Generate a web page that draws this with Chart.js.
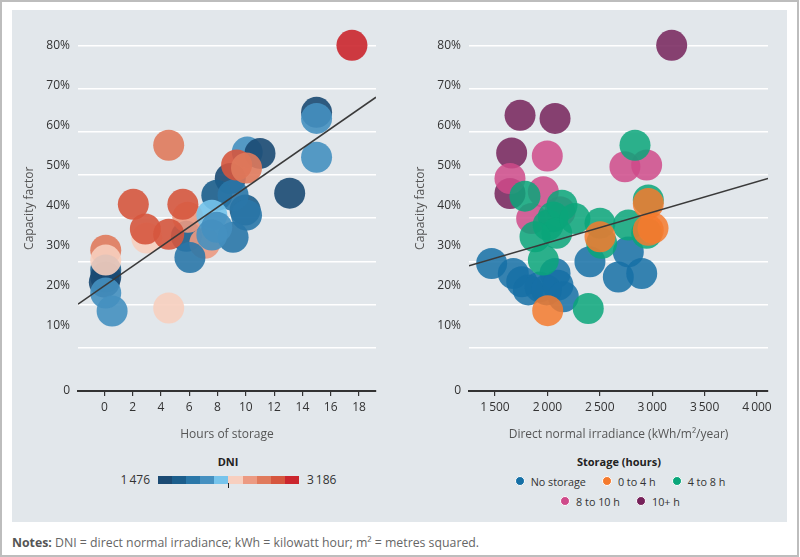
<!DOCTYPE html>
<html>
<head>
<meta charset="utf-8">
<script src="https://cdn.jsdelivr.net/npm/chart.js@4/dist/chart.umd.min.js"></script>
<style>
  html, body { margin: 0; padding: 0; background: #fff; }
  body { width: 800px; height: 557px; position: relative; overflow: hidden; font-family: "Open Sans", sans-serif; color: #333; }
  #frame { position: absolute; left: 0; top: 0; width: 799px; height: 557px; box-sizing: border-box; border: 2px solid #bdbdbd; }
  #panel { position: absolute; left: 12px; top: 10px; width: 775px; height: 512px; background: #e2e7eb; }
  canvas { position: absolute; top: 10px; }
  #cLeft { left: 12px; width: 388px; height: 440px; }
  #cRight { left: 400px; width: 387px; height: 440px; }
  .ttl { position: absolute; font-weight: 700; font-size: 11px; line-height: 16px; text-align: center; color: #222; }
  #dniTitle { left: 128px; width: 200px; top: 454px; }
  #stTitle { left: 519px; width: 200px; top: 454px; }
  .lbl { position: absolute; font-size: 12px; line-height: 16px; top: 472px; color: #333; }
  #dniMin { left: 90px; width: 60px; text-align: right; }
  #dniMax { left: 307px; }
  #dniBar { position: absolute; left: 158px; top: 476px; width: 141px; height: 8px; display: flex; }
  #dniBar div { flex: 1; }
  #dniMark { position: absolute; left: 227.5px; top: 483px; width: 1.5px; height: 5px; background: #222; }
  #stLegend { position: absolute; left: 470px; width: 300px; top: 471px; font-size: 10.8px; color: #333; }
  .row { display: flex; justify-content: center; height: 20px; align-items: center; }
  .item { display: flex; align-items: center; margin: 0 8px; }
  .dot { width: 8px; height: 8px; border-radius: 50%; border: 1.5px solid #fff; margin-right: 6px; }
  #notes { position: absolute; left: 12px; top: 535px; font-size: 12.3px; line-height: 16px; color: #666; }
  #notes b { color: #555; }
</style>
</head>
<body>
<div id="frame"></div>
<div id="panel"></div>
<canvas id="cLeft" width="388" height="440"></canvas>
<canvas id="cRight" width="387" height="440"></canvas>
<div id="dniTitle" class="ttl">DNI</div>
<div id="dniMin" class="lbl"></div>
<div id="dniBar"></div>
<div id="dniMark"></div>
<div id="dniMax" class="lbl"></div>
<div id="stTitle" class="ttl">Storage (hours)</div>
<div id="stLegend"></div>
<div id="notes"><b>Notes:</b> DNI = direct normal irradiance; kWh = kilowatt hour; m² = metres squared.</div>

<script>
// DNI colour scale (left chart)
const dniRange = [1476, 3186];
const dniColors = ['#1b4a73', '#1c5e8c', '#2a77a8', '#4590c0', '#76c4ec',
                   '#f7cfbf', '#ec9a82', '#e07a5c', '#d6563e', '#cb262e'];

// Left chart: hours of storage vs capacity factor (%), coloured by DNI
const leftHours = [15.0, 15.0, 15.0, 13.1, 8.9, 10.1, 11.0, 9.95, 7.95, 9.1,
                   10.05, 5.8, 9.35, 10.05, 5.9, 5.55, 7.1, 6.05, 9.1, 7.6,
                   7.95, 7.6, 4.55, 3.0, 2.05, 2.9, 4.55, 4.55, 0.1, 0.1,
                   0.1, 0.0, 0.1, 0.55, 0.1, 17.5];
const leftCF = [64.5, 63.1, 54.1, 45.8, 49.2, 55.3, 55.0, 41.9, 45.3, 45.3,
                40.7, 35.8, 52.3, 51.6, 40.2, 43.2, 34.2, 30.9, 35.6, 40.7,
                37.9, 36.1, 56.9, 35.4, 43.2, 37.5, 36.3, 19.2, 32.6, 28.0,
                26.4, 25.2, 30.3, 18.5, 22.7, 80.0];
const leftDNI = [1560, 2075, 2075, 1560, 1560, 2075, 1560, 1730, 1730, 1900,
                 1900, 1730, 2930, 2760, 2590, 2930, 2590, 1900, 1900, 2245,
                 2075, 2075, 2760, 2415, 2930, 2930, 2930, 2415, 2760, 1730,
                 1560, 1560, 2415, 2075, 2075, 3186];

// Right chart: DNI vs capacity factor (%), grouped by storage
const storageGroups = ['No storage', '0 to 4 h', '4 to 8 h', '8 to 10 h', '10+ h'];
const storageColors = ['#1670a6', '#f47a2e', '#0aa67a', '#cf4a8a', '#76225a'];
const noStorageDNI = [1468, 1675, 1755, 1818, 1929, 1993, 2073, 2101, 2152, 2406, 2677, 2772, 2900];
const noStorageCF  = [29.5, 27.2, 25.3, 23.4, 24.1, 23.4, 27.2, 24.5, 21.8, 29.9, 26.4, 32.2, 27.2];
const upTo4DNI = [2003, 2502, 3008, 2963, 2963];
const upTo4CF  = [18.6, 35.7, 37.7, 37.2, 43.4];
const upTo8DNI = [2836, 1786, 2056, 2006, 2139, 2089, 1882, 2263, 1961, 2502, 2390, 2518, 2772, 2963, 2947];
const upTo8CF  = [56.9, 45.1, 40.3, 38.4, 43.0, 36.5, 35.7, 39.9, 30.3, 38.8, 19.1, 34.2, 38.4, 44.2, 36.5];
const upTo10DNI = [1999, 1643, 1961, 1850, 2120, 2740, 2947];
const upTo10CF  = [54.4, 49.2, 46.1, 39.9, 41.5, 51.9, 52.3];
const over10DNI = [3186, 1739, 2073, 1659, 1643];
const over10CF  = [80.0, 63.8, 63.1, 55.1, 45.7];

// trend lines (end points)
const trendHours = [-1.86, 19.2];
const trendHoursCF = [20.1, 68.0];
const trendDNI = [1252, 4105];
const trendDNICF = [29.0, 49.2];

// ticks
const hoursTicks = [0, 2, 4, 6, 8, 10, 12, 14, 16, 18];
const dniTicks = [1500, 2000, 2500, 3000, 3500, 4000];
const cfTicks = [0, 10, 20, 30, 40, 50, 60, 70, 80];
const cfTickLabels = ['0', '10%', '20%', '30%', '40%', '50%', '60%', '70%', '80%'];

Chart.defaults.font.family = '"Open Sans", sans-serif';
Chart.defaults.font.size = 12;

const fmt = v => String(v).replace(/(\d)(\d{3})$/, '$1\u2009$2');

function hexA(hex, a) {
  const n = parseInt(hex.slice(1), 16);
  return `rgba(${n >> 16},${(n >> 8) & 255},${n & 255},${a})`;
}
function dniColor(v) {
  const step = (dniRange[1] - dniRange[0]) / dniColors.length;
  const i = Math.min(dniColors.length - 1, Math.max(0, Math.floor((v - dniRange[0]) / step)));
  return dniColors[i];
}
const pts = (xs, ys) => xs.map((x, i) => ({ x, y: ys[i] }));

function buildScales(xMin, xMax, xTicks, xTitle, labelW, yTitlePad) {
  return {
    x: {
      type: 'linear', position: 'bottom', min: xMin, max: xMax,
      afterBuildTicks: s => { s.ticks = xTicks.map(v => ({ value: v })); },
      afterFit: s => { s.height = 59; },
      grid: { drawOnChartArea: false, tickLength: 5, tickColor: '#333', lineWidth: 1.2 },
      border: { color: '#333', width: 2, z: 1 },
      ticks: { padding: 4, color: '#333', autoSkip: false, maxRotation: 0, callback: v => fmt(v) },
      title: { display: true, text: xTitle, color: '#555', padding: { top: 0, bottom: 8 } }
    },
    y: {
      type: 'linear', position: 'left', min: 0, max: 84.6,
      afterBuildTicks: s => { s.ticks = cfTicks.map(v => ({ value: v })); },
      afterFit: s => { s.width = 0; },
      grid: { color: '#ffffff', lineWidth: 1.5, drawTicks: false },
      border: { display: false },
      ticks: { display: false }
    },
    yl: {
      type: 'linear', position: 'left', min: -6.2, max: 85,
      afterBuildTicks: s => { s.ticks = cfTicks.map(v => ({ value: v === 0 ? s.min : v })); },
      afterFit: s => { s.width = labelW; },
      grid: { display: false, drawTicks: false },
      border: { display: false },
      ticks: { padding: 8, color: '#333', autoSkip: false, callback: (v, i) => cfTickLabels[i] },
      title: { display: true, text: 'Capacity factor', color: '#555', padding: { top: yTitlePad, bottom: 0 } }
    }
  };
}

const common = {
  responsive: false,
  devicePixelRatio: 1,
  animation: false,
  events: [],
  plugins: { legend: { display: false }, tooltip: { enabled: false } }
};

const pointStyle = { pointRadius: 15.5, pointHoverRadius: 15.5, pointBorderWidth: 0, clip: false, order: 1 };

new Chart(document.getElementById('cLeft'), {
  type: 'scatter',
  data: {
    datasets: [
      Object.assign({
        data: pts(leftHours, leftCF),
        pointBackgroundColor: leftDNI.map(v => hexA(dniColor(v), 0.9))
      }, pointStyle),
      {
        data: pts(trendHours, trendHoursCF), showLine: true, borderColor: '#3a3a3a',
        borderWidth: 1.6, pointRadius: 0, order: 0
      }
    ]
  },
  options: Object.assign({
    layout: { padding: { top: 15, right: 24, left: 0, bottom: 0 } },
    scales: buildScales(trendHours[0], trendHours[1], hoursTicks, 'Hours of storage', 66, 10.8)
  }, common)
});

const groups = [
  [noStorageDNI, noStorageCF], [upTo4DNI, upTo4CF], [upTo8DNI, upTo8CF],
  [upTo10DNI, upTo10CF], [over10DNI, over10CF]
];
const drawOrder = [5, 1, 2, 3, 4]; // higher order drawn first
new Chart(document.getElementById('cRight'), {
  type: 'scatter',
  data: {
    datasets: groups.map((g, i) => Object.assign({}, pointStyle, {
      label: storageGroups[i],
      data: pts(g[0], g[1]),
      pointBackgroundColor: hexA(storageColors[i], 0.85),
      order: drawOrder[i]
    })).concat([{
      data: pts(trendDNI, trendDNICF), showLine: true, borderColor: '#3a3a3a',
      borderWidth: 1.6, pointRadius: 0, order: 0
    }])
  },
  options: Object.assign({
    layout: { padding: { top: 15, right: 19, left: 0, bottom: 0 } },
    scales: buildScales(trendDNI[0], trendDNI[1], dniTicks, 'Direct normal irradiance (kWh/m\u00b2/year)', 69, 13.8)
  }, common)
});

// DNI colour bar legend
document.getElementById('dniMin').textContent = fmt(dniRange[0]);
document.getElementById('dniMax').textContent = fmt(dniRange[1]);
const bar = document.getElementById('dniBar');
dniColors.forEach(c => { const d = document.createElement('div'); d.style.background = c; bar.appendChild(d); });

// storage legend: 3 + 2 rows
const leg = document.getElementById('stLegend');
[[0, 1, 2], [3, 4]].forEach(row => {
  const r = document.createElement('div');
  r.className = 'row';
  row.forEach(i => {
    const it = document.createElement('div');
    it.className = 'item';
    it.innerHTML = `<span class="dot" style="background:${storageColors[i]}"></span><span>${storageGroups[i]}</span>`;
    r.appendChild(it);
  });
  leg.appendChild(r);
});
</script>
</body>
</html>
